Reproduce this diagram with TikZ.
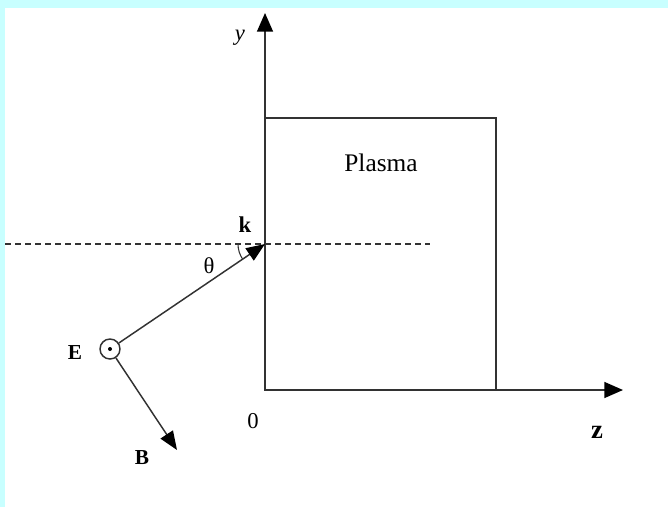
\documentclass[tikz,border=0pt]{standalone}
\usepackage{fontspec}
\setmainfont{Liberation Serif}
\usetikzlibrary{arrows.meta,calc}
\definecolor{bgcyan}{RGB}{200,255,255}
\definecolor{ln}{RGB}{50,50,50}
\tikzset{
  ax/.style={draw=ln, line width=1.1pt, -{Triangle[length=14pt,width=12pt,color=black]}},
  vec/.style={draw=ln, line width=1.1pt, -{Triangle[length=14pt,width=11pt,color=black]}},
  plain/.style={draw=ln, line width=1.1pt},
  lbl/.style={inner sep=0pt, font=\fontsize{17}{19}\selectfont},
}
\begin{document}
\begin{tikzpicture}[x=0.75pt,y=-0.75pt]
\useasboundingbox (0,0) rectangle (668,507);
\fill[bgcyan] (0,0) rectangle (668,507);
\fill[white] (5,8) rectangle (668,507);
% coordinates
\coordinate (O) at (265,390);
\coordinate (ytip) at (265,13);
\coordinate (ztip) at (623,390);
\coordinate (ktip) at (265,244);
\coordinate (dl) at (5,244);
\coordinate (dr) at (430,244);
\coordinate (Btip) at (177,450);
% plasma box
\draw[plain] (265,118) rectangle (496,390);
% axes
\draw[ax] (O) -- (ytip);
\draw[ax] (O) -- (ztip);
% dashed line
\draw[plain, line width=0.9pt, dash pattern=on 4.5pt off 3pt] (dl) -- (dr);
% E circle
\node[draw=ln, line width=1.1pt, circle, minimum size=15pt, inner sep=0pt] (Ec) at (110,349) {};
\fill[black] (Ec.center) circle (1.5pt);
% k vector
\draw[vec] (Ec) -- (ktip);
% B vector
\draw[vec] (Ec) -- (Btip);
% angle arc
\draw[ln, line width=0.8pt] ($(ktip)+(180:27)$) arc[start angle=180, end angle=146, radius=27];
% labels
\node[lbl, font=\fontsize{17}{19}\selectfont\itshape] (ylab) at (240,38) {y};
\node[lbl, font=\fontsize{19}{21}\selectfont] (plasma) at (381,163) {Plasma};
\node[lbl, font=\fontsize{17}{19}\selectfont\bfseries] (klab) at (245,225) {k};
\node[lbl] (thlab) at (209,266) {θ};
\node[lbl, font=\fontsize{16}{18}\selectfont\bfseries] (Elab) at (75,353) {E};
\node[lbl] (zero) at (253,421) {0};
\node[lbl, font=\fontsize{16}{18}\selectfont\bfseries] (Blab) at (142,458) {B};
\node[lbl, font=\fontsize{20}{22}\selectfont\bfseries] (zlab) at (597,432) {z};
\end{tikzpicture}
\end{document}
